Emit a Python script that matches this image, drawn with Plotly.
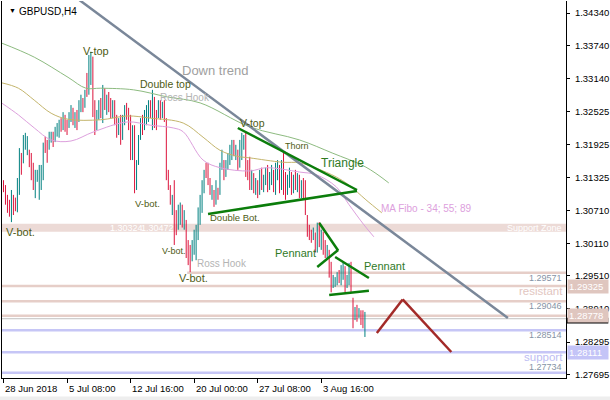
import plotly.graph_objects as go

# ---------------- data ----------------
bar_open = [1.3125,1.3108,1.3085,1.3070,1.3062,1.3098,1.3078,1.3072,1.3125,1.3175,
            1.3160,1.3198,1.3180,1.3180,1.3160,1.3135,1.3110,1.3128,1.3130,1.3135,
            1.3135,1.3200,1.3192,1.3185,1.3200,1.3212,1.3198,1.3210,1.3212,1.3235,
            1.3220,1.3245,1.3225,1.3225,1.3240,1.3258,1.3232,1.3250,1.3236,1.3262,
            1.3276,1.3262,1.3315,1.3290,1.3322,1.3348,1.3255,1.3226,1.3248,1.3268,
            1.3240,1.3293,1.3260,1.3280,1.3258,1.3245,1.3268,1.3235,1.3212,1.3238,
            1.3205,1.3235,1.3258,1.3244,1.3228,1.3170,1.3210,1.3118,1.3160,1.3202,
            1.3235,1.3220,1.3245,1.3250,1.3268,1.3240,1.3275,1.3245,1.3245,1.3262,
            1.3242,1.3262,1.3238,1.3135,1.3115,1.3088,1.3120,1.3060,1.3038,1.3060,
            1.3078,1.3045,1.3050,1.3000,1.2990,1.2980,1.3000,1.2990,1.3035,1.3060,
            1.3090,1.3110,1.3150,1.3140,1.3125,1.3100,1.3108,1.3085,1.3112,1.3100,
            1.3148,1.3160,1.3135,1.3150,1.3162,1.3180,1.3195,1.3170,1.3180,1.3150,
            1.3190,1.3195,1.3210,1.3150,1.3160,1.3112,1.3135,1.3105,1.3122,1.3100,
            1.3145,1.3110,1.3125,1.3148,1.3112,1.3125,1.3145,1.3108,1.3140,1.3155,
            1.3112,1.3165,1.3130,1.3100,1.3120,1.3140,1.3108,1.3140,1.3110,1.3132,
            1.3098,1.3125,1.3115,1.3060,1.3040,1.3030,1.3018,1.3028,1.2998,1.3045,
            1.3005,1.3028,1.3010,1.2988,1.2995,1.2958,1.2932,1.2935,1.2938,1.2955,
            1.2940,1.2950,1.2965,1.2932,1.2940,1.2972,1.2910,1.2872,1.2892,1.2876,
            1.2886,1.2882,1.2850]
bar_high = [1.3127,1.3118,1.3100,1.3091,1.3109,1.3100,1.3095,1.3131,1.3186,1.3177,
            1.3210,1.3214,1.3208,1.3183,1.3177,1.3159,1.3146,1.3146,1.3155,1.3155,
            1.3196,1.3207,1.3201,1.3216,1.3216,1.3216,1.3225,1.3232,1.3238,1.3241,
            1.3252,1.3247,1.3238,1.3252,1.3265,1.3260,1.3252,1.3256,1.3274,1.3284,
            1.3278,1.3293,1.3324,1.3357,1.3363,1.3354,1.3274,1.3256,1.3274,1.3278,
            1.3302,1.3296,1.3284,1.3289,1.3278,1.3274,1.3274,1.3247,1.3241,1.3247,
            1.3247,1.3265,1.3269,1.3260,1.3247,1.3228,1.3228,1.3164,1.3210,1.3241,
            1.3247,1.3256,1.3265,1.3274,1.3274,1.3293,1.3280,1.3256,1.3274,1.3274,
            1.3271,1.3274,1.3241,1.3146,1.3118,1.3100,1.3127,1.3072,1.3082,1.3086,
            1.3082,1.3072,1.3054,1.3017,1.3008,1.3017,1.3036,1.3045,1.3077,1.3100,
            1.3127,1.3146,1.3159,1.3159,1.3131,1.3118,1.3109,1.3127,1.3113,1.3159,
            1.3183,1.3164,1.3164,1.3177,1.3192,1.3201,1.3201,1.3192,1.3183,1.3201,
            1.3214,1.3210,1.3214,1.3164,1.3170,1.3146,1.3140,1.3131,1.3127,1.3146,
            1.3150,1.3137,1.3150,1.3155,1.3142,1.3155,1.3146,1.3159,1.3164,1.3155,
            1.3164,1.3177,1.3142,1.3137,1.3150,1.3142,1.3137,1.3146,1.3140,1.3137,
            1.3127,1.3131,1.3127,1.3063,1.3045,1.3036,1.3040,1.3031,1.3049,1.3050,
            1.3036,1.3032,1.3017,1.3008,1.2999,1.2977,1.2953,1.2949,1.2958,1.2962,
            1.2971,1.2975,1.2969,1.2953,1.2975,1.2977,1.2911,1.2894,1.2898,1.2892,
            1.2888,1.2888,1.2885]
bar_low = [1.3105,1.3082,1.3067,1.3060,1.3050,1.3063,1.3070,1.3068,1.3100,1.3137,
           1.3158,1.3183,1.3173,1.3151,1.3127,1.3109,1.3094,1.3124,1.3091,1.3109,
           1.3127,1.3177,1.3159,1.3183,1.3196,1.3188,1.3197,1.3207,1.3205,1.3216,
           1.3219,1.3216,1.3210,1.3223,1.3234,1.3228,1.3223,1.3219,1.3234,1.3252,
           1.3252,1.3260,1.3280,1.3284,1.3302,1.3243,1.3210,1.3219,1.3238,1.3241,
           1.3232,1.3256,1.3247,1.3252,1.3241,1.3241,1.3228,1.3205,1.3210,1.3192,
           1.3201,1.3228,1.3238,1.3219,1.3164,1.3164,1.3103,1.3109,1.3155,1.3201,
           1.3210,1.3219,1.3228,1.3234,1.3241,1.3219,1.3223,1.3219,1.3241,1.3238,
           1.3241,1.3234,1.3127,1.3109,1.3082,1.3063,1.3008,1.3026,1.3036,1.3045,
           1.3040,1.3036,1.2984,1.2971,1.2958,1.2978,1.2990,1.2980,1.3017,1.3045,
           1.3067,1.3103,1.3131,1.3118,1.3100,1.3091,1.3078,1.3082,1.3091,1.3100,
           1.3146,1.3127,1.3133,1.3146,1.3155,1.3164,1.3171,1.3164,1.3146,1.3150,
           1.3164,1.3183,1.3133,1.3127,1.3109,1.3109,1.3103,1.3100,1.3094,1.3100,
           1.3109,1.3105,1.3118,1.3105,1.3109,1.3118,1.3105,1.3100,1.3127,1.3103,
           1.3109,1.3100,1.3091,1.3100,1.3113,1.3100,1.3103,1.3109,1.3105,1.3094,
           1.3094,1.3091,1.3063,1.3023,1.3017,1.3012,1.3017,1.2994,1.2994,1.3004,
           1.2999,1.2990,1.2984,1.2984,1.2948,1.2921,1.2929,1.2931,1.2934,1.2938,
           1.2934,1.2944,1.2921,1.2929,1.2934,1.2921,1.2855,1.2870,1.2867,1.2874,
           1.2861,1.2855,1.2839]
bar_close = [1.3108,1.3085,1.3070,1.3062,1.3100,1.3068,1.3072,1.3125,1.3180,1.3142,
             1.3200,1.3208,1.3200,1.3155,1.3130,1.3112,1.3135,1.3142,1.3150,1.3152,
             1.3190,1.3180,1.3165,1.3210,1.3212,1.3192,1.3220,1.3228,1.3232,1.3220,
             1.3248,1.3220,1.3214,1.3248,1.3260,1.3235,1.3248,1.3225,1.3268,1.3278,
             1.3258,1.3288,1.3290,1.3350,1.3350,1.3250,1.3225,1.3250,1.3268,1.3245,
             1.3295,1.3262,1.3278,1.3256,1.3245,1.3268,1.3232,1.3210,1.3235,1.3198,
             1.3238,1.3258,1.3242,1.3224,1.3170,1.3215,1.3120,1.3155,1.3200,1.3232,
             1.3215,1.3245,1.3258,1.3268,1.3248,1.3280,1.3230,1.3225,1.3262,1.3242,
             1.3262,1.3238,1.3135,1.3115,1.3088,1.3095,1.3025,1.3035,1.3075,1.3080,
             1.3048,1.3065,1.2990,1.2975,1.2965,1.3010,1.3030,1.3040,1.3070,1.3095,
             1.3120,1.3140,1.3135,1.3122,1.3105,1.3112,1.3085,1.3120,1.3095,1.3150,
             1.3175,1.3132,1.3158,1.3170,1.3185,1.3195,1.3178,1.3188,1.3150,1.3195,
             1.3205,1.3205,1.3140,1.3135,1.3115,1.3140,1.3108,1.3125,1.3098,1.3140,
             1.3112,1.3130,1.3145,1.3110,1.3135,1.3150,1.3112,1.3152,1.3160,1.3110,
             1.3158,1.3108,1.3095,1.3130,1.3145,1.3105,1.3130,1.3112,1.3135,1.3098,
             1.3120,1.3095,1.3068,1.3030,1.3022,1.3016,1.3035,1.2998,1.3040,1.3010,
             1.3028,1.2995,1.2988,1.3002,1.2955,1.2928,1.2948,1.2945,1.2952,1.2942,
             1.2965,1.2970,1.2930,1.2948,1.2970,1.2925,1.2862,1.2890,1.2870,1.2888,
             1.2865,1.2860,1.2872]

# time-axis labels (bar index -> label)
time_tick_bars = [0, 32, 64, 96, 128, 160]
time_tick_labels = ["28 Jun 2018", "5 Jul 08:00", "12 Jul 16:00", "20 Jul 00:00", "27 Jul 08:00", "3 Aug 16:00"]

price_ticks = [1.34340, 1.33740, 1.33140, 1.32525, 1.31925, 1.31325, 1.30710,
               1.30110, 1.29510, 1.28910, 1.28295, 1.27695]

# moving averages (MA Fibo 34/55/89), sampled at bar positions
ma89_bars = [-1, 15.5, 32.5, 41.5, 49, 65.5, 82.5, 99, 124, 149, 165.5, 182.5, 194]
ma89_vals = [1.3379, 1.3353, 1.3316, 1.3296, 1.3296, 1.3293, 1.3280, 1.3269, 1.3225, 1.3201, 1.3177, 1.3151, 1.3122]
ma55_bars = [-1, 7.5, 15.5, 24, 32.5, 49, 62.5, 74, 90.5, 100.5, 109, 117.5, 124, 140.5, 149, 157.5, 167.5, 174, 182.5, 190.5]
ma55_vals = [1.3306, 1.3296, 1.3274, 1.3250, 1.3239, 1.3238, 1.3245, 1.3241, 1.3232, 1.3206, 1.3182, 1.3171, 1.3168, 1.3160, 1.3159, 1.3149, 1.3133, 1.3118, 1.3091, 1.3067]
ma34_bars = [-1, 7.5, 15.5, 24, 34, 45.5, 62.5, 74, 85.5, 90.5, 100.5, 109, 124, 132.5, 149, 157.5, 167.5, 174, 181.5, 186.5]
ma34_vals = [1.3269, 1.3247, 1.3223, 1.3201, 1.3199, 1.3216, 1.3234, 1.3228, 1.3223, 1.3216, 1.3164, 1.3150, 1.3144, 1.3150, 1.3142, 1.3137, 1.3115, 1.3082, 1.3045, 1.3023]

# support / resistance levels
support_zone = [1.30324, 1.30472]
resist_levels = [1.29571, 1.29325, 1.29046, 1.28778]
support_levels = [1.28514, 1.28111, 1.27734]
bid_price = 1.28725

# drawn analysis lines: (bar, price) pairs
down_trend = [(36, 1.3464), (254, 1.28739)]
triangle_upper = [(118, 1.32229), (178, 1.31090)]
triangle_lower = [(103, 1.30649), (178, 1.31072)]
pennant1_upper = [(159, 1.30484), (168.5, 1.29979)]
pennant1_lower = [(158, 1.29676), (168.5, 1.29988)]
pennant2_upper = [(167, 1.29859), (184, 1.29474)]
pennant2_lower = [(164, 1.29161), (184, 1.29240)]
projection = [(188, 1.28463), (201, 1.29079), (225.5, 1.28114)]

# ---------------- figure ----------------
FONT = "Liberation Sans, Arial, sans-serif"
TEAL = "#008080"
RED = "#DC143C"
PINK = "#E6CEC8"
BLUE = "#C6C6F6"
LABEL = "#4E5B14"
PAT = "#2F7A1F"

fig = go.Figure()

fig.add_trace(go.Ohlc(
    x=list(range(len(bar_open))), open=bar_open, high=bar_high, low=bar_low, close=bar_close,
    increasing=dict(line=dict(color=TEAL, width=1)),
    decreasing=dict(line=dict(color=RED, width=1)),
    tickwidth=0, hoverinfo="skip", showlegend=False))

for bars, vals, col in [(ma89_bars, ma89_vals, "#8DBB80"),
                        (ma55_bars, ma55_vals, "#C4B56C"),
                        (ma34_bars, ma34_vals, "#DDA0DD")]:
    fig.add_trace(go.Scatter(x=bars, y=vals, mode="lines", line=dict(color=col, width=1, shape="spline"),
                             hoverinfo="skip", showlegend=False))

shapes = []
# support zone band
shapes.append(dict(type="rect", xref="paper", x0=0, x1=1, yref="y", y0=support_zone[0], y1=support_zone[1],
                   fillcolor="#ECDAD6", line=dict(width=0), layer="below"))
for i, lv in enumerate(resist_levels):
    shapes.append(dict(type="line", xref="x" if i == 0 else "paper", x0=92.5 if i == 0 else 0,
                       x1=283.5 if i == 0 else 1, yref="y", y0=lv, y1=lv,
                       line=dict(color=PINK, width=2.5), layer="below"))
shapes.append(dict(type="line", xref="paper", x0=0, x1=1, yref="y", y0=bid_price, y1=bid_price,
                   line=dict(color="#C0C0C0", width=1), layer="below"))
for lv in support_levels:
    shapes.append(dict(type="line", xref="paper", x0=0, x1=1, yref="y", y0=lv, y1=lv,
                       line=dict(color=BLUE, width=2.5), layer="below"))

def seg(pts, color, width):
    out = []
    for (x0, y0), (x1, y1) in zip(pts[:-1], pts[1:]):
        out.append(dict(type="line", xref="x", yref="y", x0=x0, y0=y0, x1=x1, y1=y1,
                        line=dict(color=color, width=width), layer="above"))
    return out

shapes += seg(down_trend, "#7A8799", 2.5)
for p in [triangle_upper, triangle_lower, pennant1_upper, pennant1_lower, pennant2_upper, pennant2_lower]:
    shapes += seg(p, "#0B7D0B", 2.5)
shapes += seg(projection, "#A32A28", 2.5)
# current bid marker on the price scale (its text is hidden under the 1.28778 box)
shapes.append(dict(type="rect", xref="paper", yref="y", x0=1.0, x1=1.075, y0=bid_price - 0.0009,
                   y1=bid_price + 0.0002, fillcolor="#000000", line=dict(width=0), layer="above"))
# bottom scroll strip
shapes.append(dict(type="rect", xref="paper", yref="paper", x0=-0.01, x1=1.1, y0=-0.06, y1=-0.049,
                   fillcolor="#EEEEEE", line=dict(width=0), layer="below"))
fig.update_layout(shapes=shapes)

ann = []
def txt(x, y, s, size, color, anchor="left", xref="x", yref="y", **kw):
    ann.append(dict(x=x, y=y, xref=xref, yref=yref, text=s, showarrow=False, xanchor=anchor, yanchor="middle",
                    font=dict(family=FONT, size=size, color=color), **kw))

# title
txt(0.008, 0.976, "▼", 7, "#000000", xref="paper", yref="paper")
txt(0.026, 0.973, "GBPUSD,H4", 10, "#000000", xref="paper", yref="paper")

# pattern labels
txt(46.5, 1.33640, "V-top", 11, LABEL, anchor="center")
txt(67.5, 1.33037, "Double top", 10.5, LABEL)
txt(78, 1.32798, "Ross Hook", 10, "#B4B4B4")
txt(89, 1.33294, "Down trend", 13, "#A0A0A0")
txt(0.5, 1.30319, "V-bot.", 11, LABEL)
txt(65, 1.30851, "V-bot.", 9.5, LABEL)
txt(79, 1.29970, "V-bot.", 9, LABEL)
txt(87.5, 1.29474, "V-bot.", 11, LABEL)
txt(96.5, 1.29731, "Ross Hook", 10, "#B4B4B4")
txt(103, 1.30576, "Double Bot.", 9.5, LABEL)
txt(118, 1.32322, "V-top", 10.5, LABEL)
txt(140.5, 1.31898, "Thorn", 9, LABEL)
txt(159, 1.31586, "Triangle", 12, PAT)
txt(189, 1.30741, "MA Fibo - 34; 55; 89", 10, "#DDA0DD")
txt(135.5, 1.29933, "Pennant", 11, PAT)
txt(180.5, 1.29694, "Pennant", 11, PAT)

# level texts
txt(52.5, 1.30400, "1.30324", 9, "#FFFFFF")
txt(68, 1.30400, "1.30472", 9, "#FFFFFF")
txt(282, 1.30400, "Support Zone", 9, "#FFFFFF", anchor="right")
txt(282, 1.29474, "1.29571", 9, "#8693A5", anchor="right")
txt(282.5, 1.29235, "resistant", 11.5, "#E2C6BF", anchor="right")
txt(282, 1.28959, "1.29046", 9, "#8693A5", anchor="right")
txt(282, 1.28426, "1.28514", 9, "#8693A5", anchor="right")
txt(282.5, 1.28022, "support", 11.5, "#BDBDF2", anchor="right")
txt(282, 1.27839, "1.27734", 9, "#8693A5", anchor="right")

# right-axis price boxes
def box(price, s, bg, fg="#FFFFFF"):
    ann.append(dict(x=1, xref="paper", y=price, yref="y", text=s, showarrow=False, xanchor="left",
                    yanchor="middle", xshift=1, bgcolor=bg, borderpad=1, width=38, align="left",
                    font=dict(family=FONT, size=9.5, color=fg)))
box(1.29325, "1.29325", "#DFC6BF")
box(1.28778, "1.28778", "#DFC6BF")
box(1.28111, "1.28111", "#C4C4F7")

# time labels
for b, lab in zip(time_tick_bars, time_tick_labels):
    ann.append(dict(x=b - 0.25, xref="x", y=0, yref="paper", text=lab, showarrow=False, xanchor="left",
                    yanchor="top", yshift=-3, font=dict(family=FONT, size=9.5, color="#000000")))

fig.update_layout(annotations=ann)

fig.update_layout(
    width=610, height=400,
    margin=dict(l=1, r=41, t=1, b=22),
    paper_bgcolor="white", plot_bgcolor="white",
    showlegend=False,
    xaxis=dict(range=[-0.75, 283.25], showgrid=False, zeroline=False, showline=True, linecolor="black",
               linewidth=1, ticks="outside", ticklen=4, tickcolor="black", tickvals=time_tick_bars,
               showticklabels=False, rangeslider=dict(visible=False), fixedrange=True),
    yaxis=dict(range=[1.27636, 1.34562], side="right", showgrid=False, zeroline=False, showline=True,
               mirror=True, linecolor="black", linewidth=1, ticks="outside", ticklen=3, tickcolor="black",
               tickvals=price_ticks, ticktext=[f"{v:.5f}" for v in price_ticks], ticklabelstandoff=3,
               tickfont=dict(family=FONT, size=9.5, color="black"), fixedrange=True),
)

fig.write_html("out.html", config={"displayModeBar": False},
               post_script="document.body.style.margin='0';document.body.style.overflow='hidden';")
